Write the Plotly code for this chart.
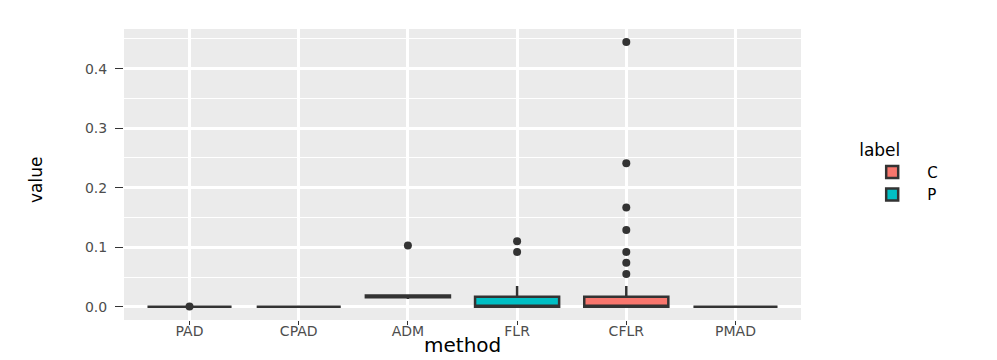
import plotly.graph_objects as go

# categories in display order
methods = ["PAD", "CPAD", "ADM", "FLR", "CFLR", "PMAD"]

# which fill label each method's box carries
labels = ["P", "C", "P", "P", "C", "P"]

# box statistics
q1 = [0.0, 0.0, 0.016, 0.0, 0.0, 0.0]
median = [0.0, 0.0, 0.017, 0.0, 0.0, 0.0]
q3 = [0.0, 0.0, 0.019, 0.017, 0.017, 0.0]
lower = [0.0, 0.0, 0.013, 0.0, 0.0, 0.0]
upper = [0.0, 0.0, 0.021, 0.035, 0.035, 0.0]

# outlying points
out_method = ["PAD", "ADM", "FLR", "FLR",
              "CFLR", "CFLR", "CFLR", "CFLR", "CFLR", "CFLR", "CFLR"]
out_value = [0.0005, 0.103, 0.110, 0.092,
             0.445, 0.241, 0.167, 0.129, 0.092, 0.074, 0.055]

colors = {"C": "#F8766D", "P": "#00BFC4"}

fig = go.Figure()

for lab in ["C", "P"]:
    idx = [i for i, l in enumerate(labels) if l == lab]
    fig.add_trace(go.Box(
        name=lab,
        x=[methods[i] for i in idx],
        q1=[q1[i] for i in idx],
        median=[median[i] for i in idx],
        q3=[q3[i] for i in idx],
        lowerfence=[lower[i] for i in idx],
        upperfence=[upper[i] for i in idx],
        fillcolor=colors[lab],
        line=dict(color="#333333", width=2.5),
        whiskerwidth=0,
        width=0.77,
        boxpoints=False,
    ))

fig.add_trace(go.Scatter(
    x=out_method,
    y=out_value,
    mode="markers",
    marker=dict(color="#333333", size=8),
    showlegend=False,
))

# page body has an 8px margin, so the figure is sized to fit inside it
fig.update_layout(
    width=989,
    height=352,
    margin=dict(l=116, r=196, t=21, b=40, autoexpand=False),
    paper_bgcolor="white",
    plot_bgcolor="#EBEBEB",
    boxmode="overlay",
    font=dict(family="DejaVu Sans, sans-serif"),
    legend=dict(
        title=dict(text="label", font=dict(size=17, color="black")),
        x=1.083, y=0.64, xanchor="left", yanchor="top",
        font=dict(size=15, color="black"),
        bgcolor="white",
        tracegroupgap=0,
        itemwidth=60,
    ),
    annotations=[
        dict(text="method", xref="paper", yref="paper", x=0.5, y=-0.086,
             xanchor="center", yanchor="middle", showarrow=False,
             font=dict(size=20, color="black")),
        dict(text="value", xref="paper", yref="paper", x=-0.130, y=0.481,
             xanchor="center", yanchor="middle", showarrow=False, textangle=-90,
             font=dict(size=17, color="black")),
    ],
)

fig.update_xaxes(
    categoryorder="array",
    categoryarray=methods,
    range=[-0.6, 5.6],
    showgrid=True,
    gridcolor="white",
    gridwidth=2.5,
    ticks="outside",
    ticklen=4,
    tickcolor="#333333",
    tickfont=dict(size=14, color="#4D4D4D"),
    ticklabelstandoff=-6,
    zeroline=False,
)

fig.update_yaxes(
    range=[-0.0222, 0.4667],
    tickvals=[0.0, 0.1, 0.2, 0.3, 0.4],
    tickformat=".1f",
    showgrid=True,
    gridcolor="white",
    gridwidth=2.5,
    minor=dict(dtick=0.05, tick0=0.05, showgrid=True, gridcolor="white", gridwidth=1),
    ticks="outside",
    ticklen=8,
    tickcolor="#333333",
    tickfont=dict(size=14, color="#4D4D4D"),
    ticklabelstandoff=5,
    zeroline=False,
)

fig.write_html("out.html")
